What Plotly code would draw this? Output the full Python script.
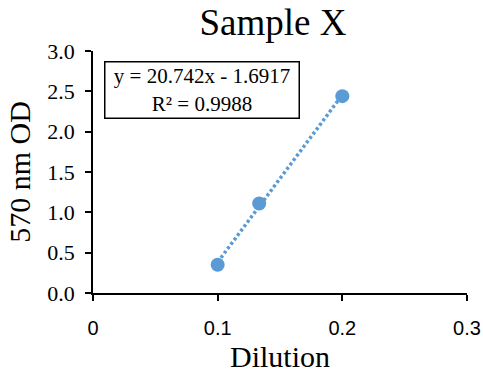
import plotly.graph_objects as go
import numpy as np

dilution = [0.1, 0.1333, 0.2]
od = [0.35, 1.11, 2.44]
slope = 20.742
intercept = -1.6917
r2 = 0.9988

x_ticks = [0, 0.1, 0.2, 0.3]
x_tick_text = ["0", "0.1", "0.2", "0.3"]
y_ticks = [0.0, 0.5, 1.0, 1.5, 2.0, 2.5, 3.0]
y_tick_text = ["0.0", "0.5", "1.0", "1.5", "2.0", "2.5", "3.0"]

blue = "#5B9BD5"
serif = "Liberation Serif"

tx = np.array([min(dilution), max(dilution)])
ty = slope * tx + intercept

fig = go.Figure()
fig.add_trace(go.Scatter(x=tx, y=ty, mode="lines",
                         line=dict(color=blue, width=3.5, dash="3px,2.5px"),
                         hoverinfo="skip", showlegend=False))
fig.add_trace(go.Scatter(x=dilution, y=od, mode="markers",
                         marker=dict(color=blue, size=14),
                         showlegend=False))

W, H = 483, 374
L, R, T, B = 93, 16, 51, 81
fig.update_layout(
    width=W, height=H,
    margin=dict(l=L, r=R, t=T, b=B),
    paper_bgcolor="white", plot_bgcolor="white",
    title=dict(text="Sample X", x=273 / W, xanchor="center", y=1 - 22 / H, yanchor="middle",
               automargin=False,
               font=dict(family=serif, size=37, color="black")),
    xaxis=dict(range=[0, 0.3], tickvals=x_ticks, ticktext=x_tick_text, automargin=False,
               showgrid=False, zeroline=False, showline=True, linecolor="black", linewidth=1.5,
               ticks="outside", ticklen=6, tickcolor="black", tickwidth=1.5,
               ticklabelstandoff=10,
               tickfont=dict(family="Liberation Sans", size=20, color="black"),
               title=dict(text="Dilution", font=dict(family=serif, size=30, color="black"), standoff=8)),
    yaxis=dict(range=[0, 3.0], tickvals=y_ticks, ticktext=y_tick_text, automargin=False,
               showgrid=False, zeroline=False, showline=True, linecolor="black", linewidth=1.5,
               ticks="outside", ticklen=6, tickcolor="black", tickwidth=1.5,
               ticklabelstandoff=6,
               tickfont=dict(family=serif, size=22, color="black"),
               title=dict(text="570 nm OD", font=dict(family=serif, size=30, color="black"), standoff=8)),
    font=dict(family=serif, color="black"),
)

fig.add_annotation(
    xref="paper", yref="paper",
    x=(201.5 - L) / (W - L - R), y=1 - (89.5 - T) / (H - T - B),
    xanchor="center", yanchor="middle",
    text=f"y = {slope}x - {abs(intercept)}<br>R² = {r2}",
    showarrow=False, align="center",
    font=dict(family=serif, size=21, color="black"),
    bordercolor="black", borderwidth=1.5, bgcolor="white",
    borderpad=2, width=189, height=51,
)

fig.write_html("out.html")
